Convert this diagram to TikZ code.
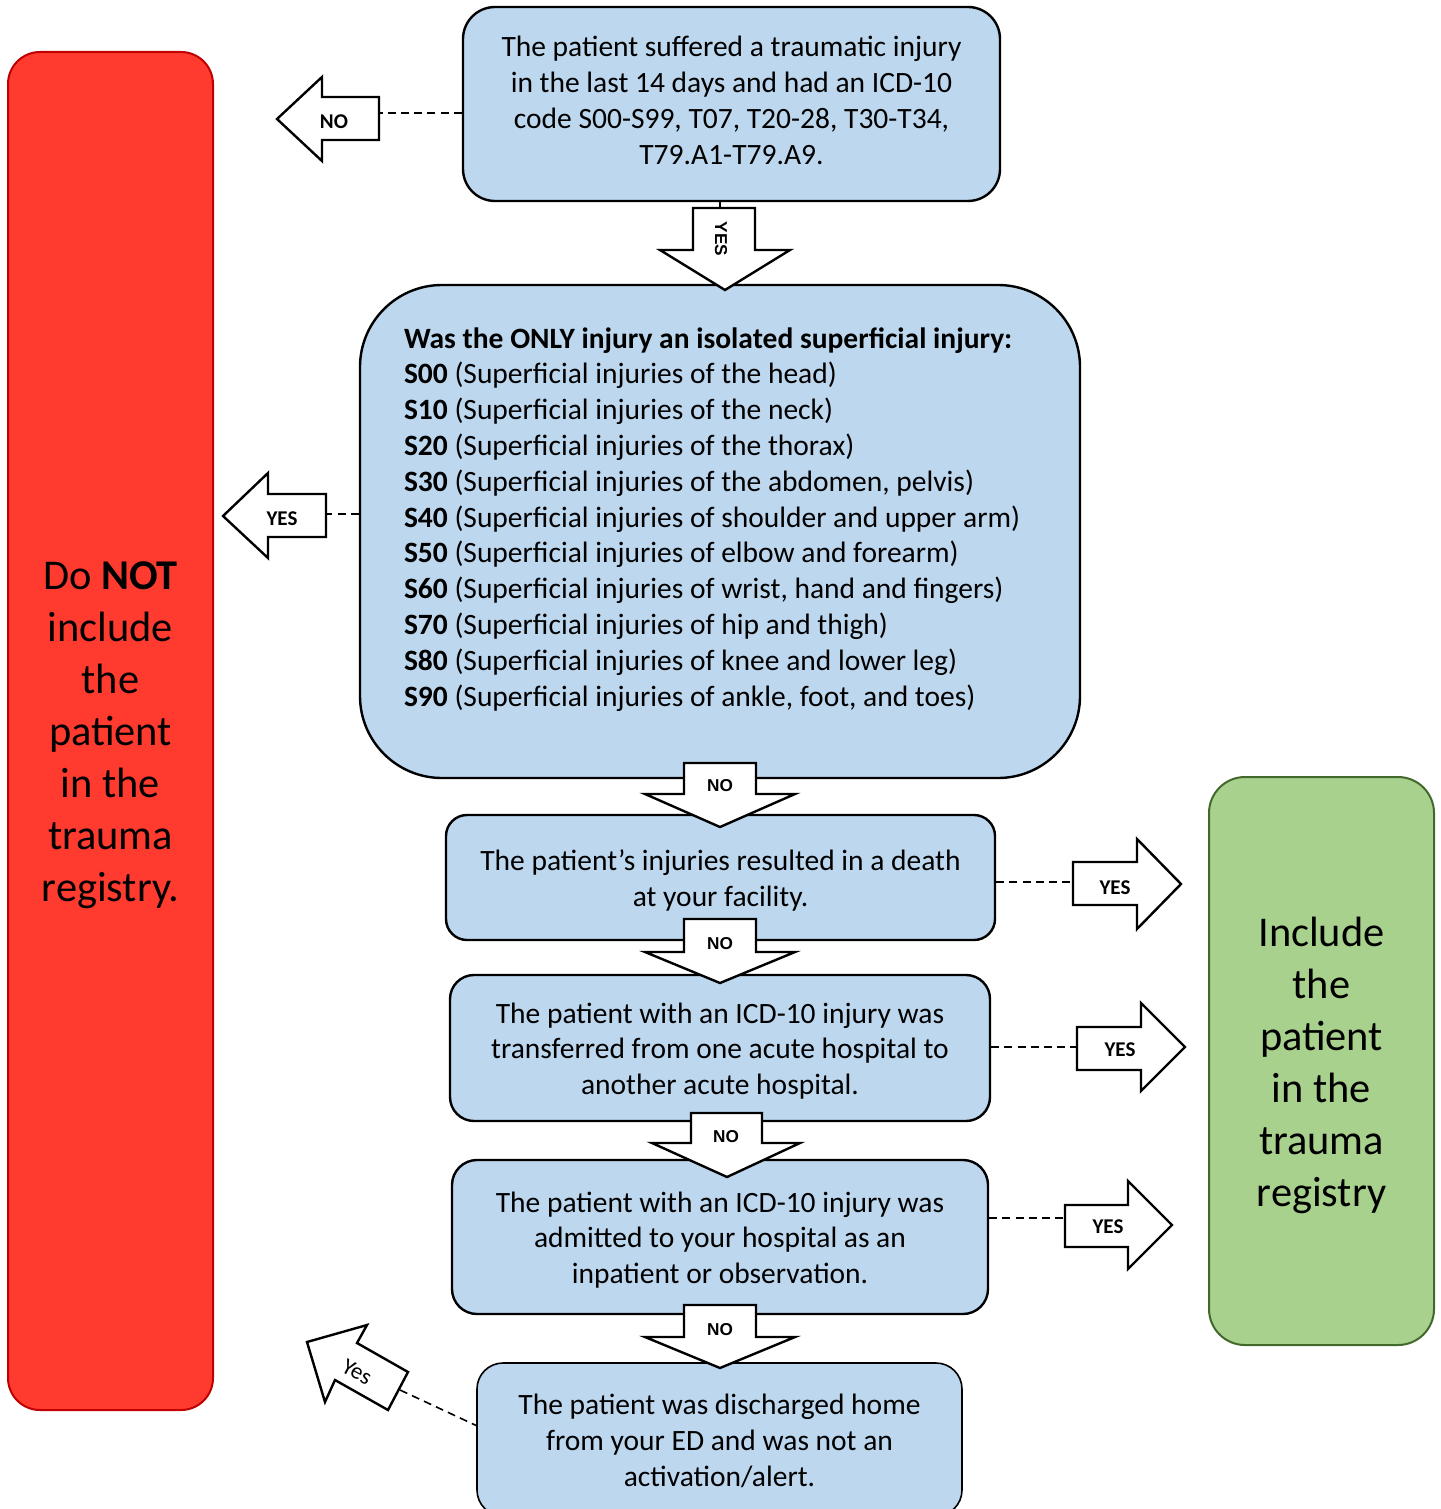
\documentclass[tikz,border=0pt]{standalone}
\usepackage{fontspec}
\setmainfont{Carlito}
\newfontfamily\arialfam{Liberation Sans}
\definecolor{boxblue}{HTML}{BDD7EE}
\definecolor{redfill}{HTML}{FF3B30}
\definecolor{redline}{HTML}{C00000}
\definecolor{greenfill}{HTML}{A9D18E}
\definecolor{greenline}{HTML}{43682B}
\newcommand\bodytxt{\fontsize{14.75pt}{17.9pt}\selectfont}
\newcommand\bigtxt{\fontsize{21.2pt}{26pt}\selectfont}
\newcommand\sidelab{\fontsize{10.5pt}{12pt}\selectfont\bfseries}
\newcommand\downlab{\arialfam\fontsize{8.6pt}{10pt}\selectfont\bfseries}
\newcommand\yeslab{\fontsize{11.5pt}{13pt}\selectfont}
\newcommand\ctab[2][-1.9pt]{\raisebox{#1}[\height][\depth]{\begin{tabular}{@{}c@{}}#2\end{tabular}}}
\newcommand\ltab[2][0pt]{\raisebox{#1}[\height][\depth]{\begin{tabular}{@{}l@{}}#2\end{tabular}}}
\begin{document}
\begin{tikzpicture}[x=0.5pt,y=-0.5pt,
  qbox/.style={draw=black, line width=1.2pt, fill=boxblue, inner sep=0pt, font=\bodytxt},
  endbox/.style={line width=1pt, inner sep=0pt, font=\bigtxt},
  barrow/.style={draw=black, line width=1.2pt, fill=white, line join=miter},
  slab/.style={inner sep=0pt, font=\sidelab},
  dlab/.style={inner sep=0pt, font=\downlab},
  conn/.style={draw=black, line width=0.8pt, dash pattern=on 4pt off 2.6pt}]
\useasboundingbox (0,0) rectangle (1440,1509);
\clip (0,0) rectangle (1440,1509);

% outcome boxes
\node[endbox, fill=redfill, draw=redline, minimum width=102.5pt, minimum height=679pt, rounded corners=16pt]
  (red) at (110.5,731) {\ctab[-2.2pt]{Do \textbf{NOT}\\include\\the\\patient\\in the\\trauma\\registry.}};
\node[endbox, fill=greenfill, draw=greenline, minimum width=112.5pt, minimum height=284pt, rounded corners=18pt]
  (green) at (1321.5,1061) {\ctab[-2.4pt]{Include\\the\\patient\\in the\\trauma\\registry}};

% question boxes
\node[qbox, minimum width=268.5pt, minimum height=97pt, rounded corners=16pt] (b1) at (731.5,104)
  {\ctab[0.4pt]{The patient suffered a traumatic injury\\in the last 14 days and had an ICD-10\\code S00-S99, T07, T20-28, T30-T34,\\T79.A1-T79.A9.}};
\node[qbox, minimum width=360pt, minimum height=246.5pt, rounded corners=41pt] (b2) at (720,531.5)
  {\makebox[316pt][l]{\ltab[5.75pt]{%
   \textbf{Was the ONLY injury an isolated superficial injury:}\\
   \textbf{S00} (Superficial injuries of the head)\\
   \textbf{S10} (Superficial injuries of the neck)\\
   \textbf{S20} (Superficial injuries of the thorax)\\
   \textbf{S30} (Superficial injuries of the abdomen, pelvis)\\
   \textbf{S40} (Superficial injuries of shoulder and upper arm)\\
   \textbf{S50} (Superficial injuries of elbow and forearm)\\
   \textbf{S60} (Superficial injuries of wrist, hand and fingers)\\
   \textbf{S70} (Superficial injuries of hip and thigh)\\
   \textbf{S80} (Superficial injuries of knee and lower leg)\\
   \textbf{S90} (Superficial injuries of ankle, foot, and toes)}}};
\node[qbox, minimum width=274.5pt, minimum height=62.5pt, rounded corners=10.5pt] (b3) at (720.5,877.5)
  {\ctab{The patient’s injuries resulted in a death\\at your facility.}};
\node[qbox, minimum width=270pt, minimum height=73pt, rounded corners=12pt] (b4) at (720,1048)
  {\ctab{The patient with an ICD-10 injury was\\transferred from one acute hospital to\\another acute hospital.}};
\node[qbox, minimum width=268pt, minimum height=77pt, rounded corners=12.5pt] (b5) at (720,1237)
  {\ctab{The patient with an ICD-10 injury was\\admitted to your hospital as an\\inpatient or observation.}};
\node[qbox, line width=0.8pt, minimum width=242.5pt, minimum height=76.5pt, rounded corners=13pt] (b6) at (719.5,1439.5)
  {\ctab{The patient was discharged home\\from your ED and was not an\\activation/alert.}};

% A1: box1 -> NO (left)
\draw[barrow] (379,97) -- (322,97) -- (322,77) -- (277,119) -- (322,161) -- (322,140) -- (379,140) -- cycle;
\node[slab] (l1) at (334,122) {NO};
\coordinate (a1t) at (379,113);
\draw[conn] (a1t -| b1.west) -- (a1t);

% A2: box1 -> YES (down)
\draw[barrow] (693,208) -- (755,208) -- (755,250) -- (790,250) -- (725,290) -- (660,250) -- (693,250) -- cycle;
\node[dlab, rotate=-90] (l2) at (721,239) {YES};
\coordinate (a2t) at (720,208);
\draw[line width=0.8pt] (a2t |- b1.south) -- (a2t);

% A3: box2 -> YES (left)
\draw[barrow] (326,494) -- (268,494) -- (268,473) -- (223,516) -- (268,558) -- (268,537) -- (326,537) -- cycle;
\node[slab] (l3) at (282,519) {YES};
\coordinate (a3t) at (326,514);
\draw[conn] (a3t -| b2.west) -- (a3t);

% A4: box2 -> NO (down)
\draw[barrow] (684,763) -- (756,763) -- (756,794) -- (795,794) -- (720,827) -- (645,794) -- (684,794) -- cycle;
\node[dlab] (l4) at (720,786) {NO};

% A5: box3 -> YES (right)
\draw[barrow] (1073,862) -- (1137,862) -- (1137,839) -- (1181,884) -- (1137,929) -- (1137,905) -- (1073,905) -- cycle;
\node[slab] (l5) at (1115,888) {YES};
\coordinate (a5t) at (1073,882);
\draw[conn] (a5t -| b3.east) -- (a5t);

% A6: box3 -> NO (down)
\draw[barrow] (684,919) -- (756,919) -- (756,952) -- (795,952) -- (720,983) -- (645,952) -- (684,952) -- cycle;
\node[dlab] (l6) at (720,944) {NO};

% A7: box4 -> YES (right)
\draw[barrow] (1077,1027) -- (1141,1027) -- (1141,1003) -- (1185,1047) -- (1141,1091) -- (1141,1070) -- (1077,1070) -- cycle;
\node[slab] (l7) at (1120,1050) {YES};
\coordinate (a7t) at (1077,1047);
\draw[conn] (a7t -| b4.east) -- (a7t);

% A8: box4 -> NO (down)
\draw[barrow] (691,1113) -- (762,1113) -- (762,1143) -- (800,1143) -- (727,1177) -- (652,1143) -- (691,1143) -- cycle;
\node[dlab] (l8) at (726,1137) {NO};

% A9: box5 -> YES (right)
\draw[barrow] (1065,1205) -- (1128,1205) -- (1128,1181) -- (1172,1225) -- (1128,1269) -- (1128,1247) -- (1065,1247) -- cycle;
\node[slab] (l9) at (1108,1227) {YES};
\coordinate (a9t) at (1065,1218);
\draw[conn] (a9t -| b5.east) -- (a9t);

% A10: box5 -> NO (down)
\draw[barrow] (684,1305) -- (756,1305) -- (756,1337) -- (795,1337) -- (720,1368) -- (645,1337) -- (684,1337) -- cycle;
\node[dlab] (l10) at (720,1330) {NO};

% A11: box6 -> Yes (up-left)
\draw[barrow] (408,1372) -- (357,1343) -- (367,1325) -- (307,1342) -- (325,1402) -- (335,1380) -- (388,1410) -- cycle;
\node[inner sep=0pt, font=\yeslab, rotate=-28] (l11) at (357,1372) {Yes};
\coordinate (a11t) at (400,1390);
\draw[conn] (a11t) -- ([yshift=7pt]b6.west);
\end{tikzpicture}
\end{document}
